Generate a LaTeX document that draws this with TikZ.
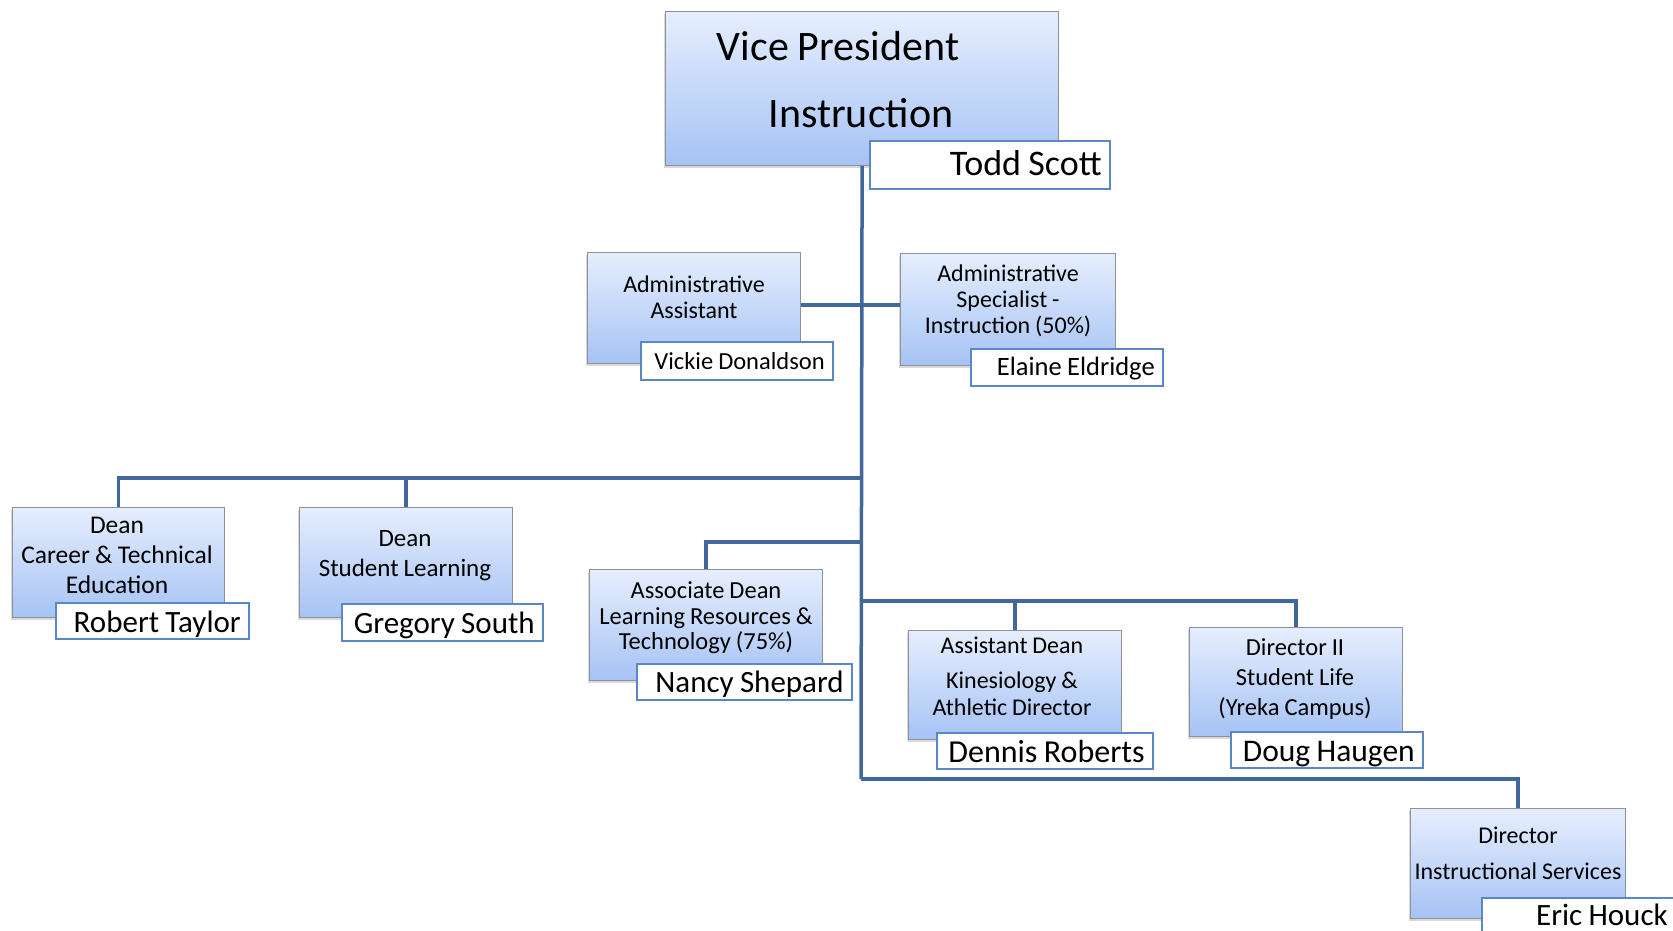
\documentclass[tikz,border=0pt]{standalone}
\usepackage{fontspec}
\setmainfont[WordSpace=0.9]{Carlito}
\usetikzlibrary{shadows}
\definecolor{boxtop}{HTML}{E6EEFD}
\definecolor{boxbot}{HTML}{A6C3F5}
\definecolor{boxdraw}{HTML}{8E9298}
\definecolor{namedraw}{HTML}{5C87C6}
\definecolor{linecol}{HTML}{41689C}
\begin{document}
\begin{tikzpicture}[x=1pt,y=-1pt,
  posbox/.style={draw=boxdraw, line width=1.2pt, top color=boxtop, bottom color=boxbot,
    anchor=north west, inner sep=0pt,
    drop shadow={shadow xshift=-2pt, shadow yshift=-2.5pt, opacity=0.25, fill=black!60}},
  namebox/.style={draw=namedraw, line width=1.5pt, fill=white, anchor=north west,
    inner ysep=0pt, inner xsep=8pt, align=flush right, text height=23pt, text depth=0pt,
    font=\fontsize{31}{31}\selectfont},
  ttl/.style={align=center, inner sep=0pt},
  link/.style={draw=linecol, line width=3.5pt}]
\useasboundingbox (0,0) rectangle (1673,930);
\clip (0,0) rectangle (1673,930);

% junction points on the trunk
\coordinate (jAdm) at (861,305);
\coordinate (jDean) at (861,478);
\coordinate (jAD) at (861,542);
\coordinate (jMid) at (861,601);
\coordinate (jBot) at (861,779);

% position boxes
\node[posbox, minimum width=393pt, minimum height=154pt] (vp) at (665,11) {};
\node[posbox, minimum width=213pt, minimum height=111pt] (aa) at (587,252) {};
\node[posbox, minimum width=215pt, minimum height=112pt] (as) at (900,253) {};
\node[posbox, minimum width=212pt, minimum height=110pt] (dcte) at (12,507) {};
\node[posbox, minimum width=213pt, minimum height=110pt] (dsl) at (299,507) {};
\node[posbox, minimum width=233pt, minimum height=111pt] (ad) at (589,569) {};
\node[posbox, minimum width=213pt, minimum height=109pt] (asd) at (908,630) {};
\node[posbox, minimum width=213pt, minimum height=109pt] (d2) at (1189,627) {};
\node[posbox, minimum width=215pt, minimum height=110pt] (dis) at (1410,808) {};

% connectors
\draw[link] (vp.south) -- (jBot);
\draw[link] (aa.east |- jAdm) -- (as.west |- jAdm);
\draw[link] (dcte.north) |- (jDean);
\draw[link] (dsl.north) -- (dsl.north |- jDean);
\draw[link] (ad.north) |- (jAD);
\draw[link] (asd.north) |- (jMid);
\draw[link] (d2.north) |- (jMid);
\draw[link] (dis.north) |- (jBot);

% titles
\node[ttl, font=\fontsize{42}{42}\selectfont, anchor=base] (vpt1) at (838,60) {Vice President};
\node[ttl, font=\fontsize{42}{42}\selectfont, anchor=base] (vpt2) at (861,127) {Instruction};
\node[ttl, font=\fontsize{24}{25.6}\selectfont] (aat) at (694,297) {Administrative\\Assistant};
\node[ttl, font=\fontsize{24}{26}\selectfont] (ast) at (1008,301) {Administrative\\Specialist -\\Instruction (50\%)};
\node[ttl, font=\fontsize{25.5}{30}\selectfont] (dctet) at (117,555) {Dean\\Career \& Technical\\Education};
\node[ttl, font=\fontsize{25}{30}\selectfont] (dslt) at (405,556) {Dean\\Student Learning};
\node[ttl, font=\fontsize{24.5}{25.6}\selectfont] (adt) at (706,618) {Associate Dean\\Learning Resources \&\\Technology (75\%)};
\node[ttl, font=\fontsize{24}{26.5}\selectfont] (asdt) at (1012,676) {Assistant Dean\\[9pt]Kinesiology \&\\Athletic Director};
\node[ttl, font=\fontsize{24.5}{30}\selectfont] (d2t) at (1295,679) {Director II\\Student Life\\(Yreka Campus)};
\node[ttl, font=\fontsize{24}{36}\selectfont] (dist) at (1518,853) {Director\\Instructional Services};

% name boxes
\node[namebox, minimum width=240pt, minimum height=48pt, text width=224pt, text height=22pt, font=\fontsize{36}{36}\selectfont] (vpn) at (869,140) {Todd Scott};
\node[namebox, minimum width=192pt, minimum height=38pt, text width=176pt, text height=17pt, font=\fontsize{24.5}{24.5}\selectfont] (aan) at (640,341) {Vickie Donaldson};
\node[namebox, minimum width=192pt, minimum height=37pt, text width=176pt, text height=17pt, font=\fontsize{26.5}{26.5}\selectfont] (asn) at (970,348) {Elaine Eldridge};
\node[namebox, minimum width=193pt, minimum height=36pt, text width=177pt] (dcten) at (55,602) {Robert Taylor};
\node[namebox, minimum width=201pt, minimum height=37pt, text width=185pt, text height=22pt] (dsln) at (341,603) {Gregory South};
\node[namebox, minimum width=215pt, minimum height=36pt, text width=199pt, text height=22pt] (adn) at (636,663) {Nancy Shepard};
\node[namebox, minimum width=216pt, minimum height=36pt, text width=200pt, font=\fontsize{32}{32}\selectfont] (asdn) at (936,732) {Dennis Roberts};
\node[namebox, minimum width=192pt, minimum height=36pt, text width=176pt, font=\fontsize{31.5}{31.5}\selectfont] (d2n) at (1230,731) {Doug Haugen};
\node[namebox, minimum width=194pt, minimum height=40pt, text width=178pt, text height=16pt] (disn) at (1481,897) {Eric Houck};
\end{tikzpicture}
\end{document}
